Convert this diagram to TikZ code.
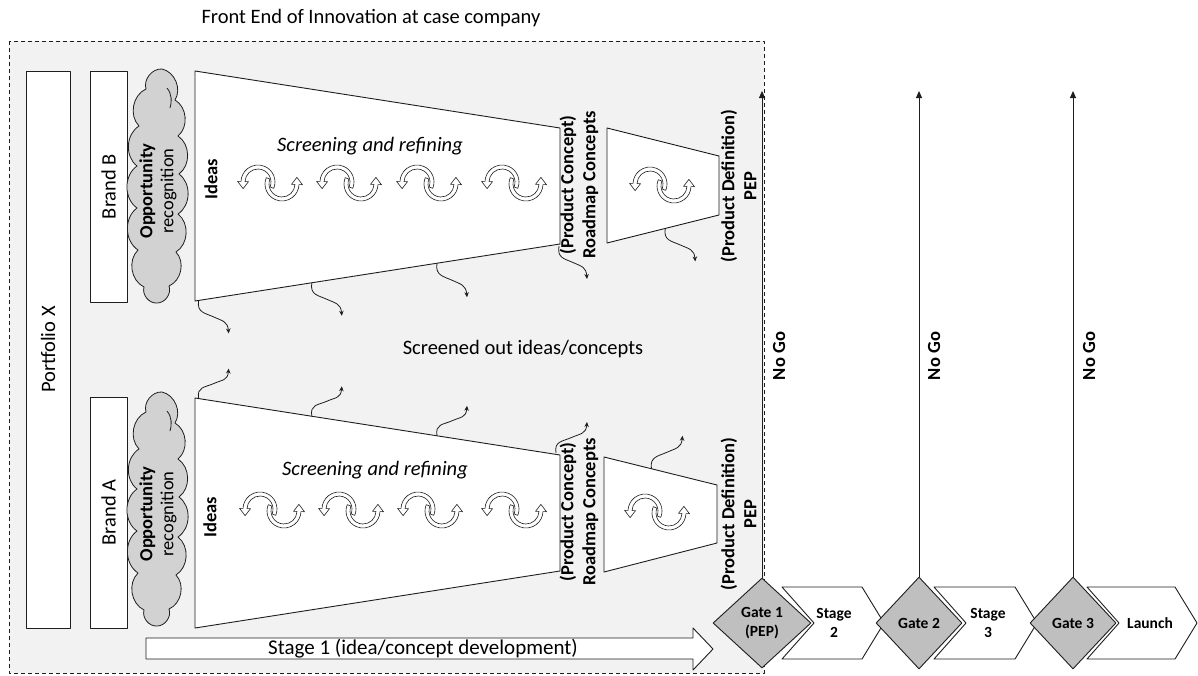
\documentclass[tikz,border=0pt]{standalone}
\usepackage{fontspec}
\setmainfont{Carlito}
\usetikzlibrary{shapes.geometric,arrows.meta,calc}

\definecolor{panelgray}{HTML}{F2F2F2}
\definecolor{cloudgray}{HTML}{D2D2D2}
\definecolor{gategray}{HTML}{BFBFBF}
\definecolor{ink}{HTML}{1E1E1E}

\tikzset{
  base/.style={font=\fontsize{20.5}{24}\selectfont, inner sep=0},
  vbold/.style={rotate=90, font=\fontsize{18.5}{22}\selectfont\bfseries, align=center, inner sep=0},
  outline/.style={draw=ink, line width=0.9pt},
  panel/.style={draw=ink, line width=0.9pt, dash pattern=on 4pt off 3pt, fill=panelgray},
  bar/.style={outline, fill=white, rotate=90, inner sep=0, font=\fontsize{20.5}{24}\selectfont},
  funnel/.style={outline, fill=white},
  cloudtext/.style={rotate=90, inner sep=0, align=center, font=\fontsize{18.5}{21}\selectfont},
  puff/.style={draw=ink, line width=0.8pt, fill=cloudgray},
  bump/.style={bend left=55},
  drop/.style={draw=ink, line width=0.8pt, -{Stealth[length=5pt,width=4.5pt]}},
  sqdown/.style={to path={.. controls +(-2,12) and +(-9,-4) .. ($(\tikztostart)!.5!(\tikztotarget)$)
      .. controls +(9,4) and +(-1,-12) .. (\tikztotarget)}},
  squp/.style={to path={.. controls +(-2,-12) and +(-9,4) .. ($(\tikztostart)!.5!(\tikztotarget)$)
      .. controls +(9,-4) and +(-1,12) .. (\tikztotarget)}},
  cycarrow/.style={draw=ink, line width=0.6pt, fill=white},
  % one curved hollow arrow of the refining cycle (y axis points down)
  halfturn/.style={insert path={
    (22:17) arc[start angle=22,end angle=-178,radius=17]
      -- (-178:20.5) -- (-204:16.3) -- (-178:9.5) -- (-178:13)
      arc[start angle=-178,end angle=22,radius=13] -- cycle}},
  refine/.pic={
    \path[cycarrow, shift={(-12,-1)}, halfturn];
    \path[cycarrow, rotate=180, shift={(-12,-1)}, halfturn];
  },
  % vertical opportunity cloud, 46 wide and 238 tall, centred on the pic position
  oppcloud/.pic={
    \path[puff] (4,-117) to[bump] (17,-86) to[bump] (20,-50) to[bump] (21,-12)
      to[bump] (20,28) to[bump] (18,66) to[bump] (11,100) to[bump] (-1,117)
      to[bump] (-14,101) to[bump] (-20,64) to[bump] (-21,22) to[bump] (-21,-20)
      to[bump] (-19,-60) to[bump] (-12,-97) to[bump] (4,-117) -- cycle;
    \draw[ink, line width=0.8pt] (9,-98) .. controls (14,-92) and (14,-84) .. (12,-78);
  },
  gate/.style={diamond, draw=ink, line width=0.9pt, fill=gategray, inner sep=0,
    font=\fontsize{15.5}{18.5}\selectfont\bfseries, align=center},
  chev/.style={outline, fill=white},
  chevtext/.style={font=\fontsize{15.5}{18.5}\selectfont\bfseries, align=center, inner sep=0},
  nogo/.style={draw=ink, line width=0.9pt, -{Triangle[length=7pt,width=6pt]}},
}

\begin{document}
\begin{tikzpicture}[x=1pt,y=-1pt, line join=round]
\useasboundingbox (0,0) rectangle (1198,675);

% front-end area
\draw[panel] (9,41) rectangle (764,673);
\node[base] (title) at (371,18) {Front End of Innovation at case company};

% portfolio and brand bars
\node[bar, minimum width=557, minimum height=44] (portfolio) at (48,349.5) {Portfolio X};
\node[bar, minimum width=231, minimum height=37] (brandB) at (108.5,186.5) {Brand B};
\node[bar, minimum width=231, minimum height=37] (brandA) at (108.5,512.5) {Brand A};

% opportunity clouds
\pic (cloudB) at (158,186) {oppcloud};
\pic (cloudA) at (158,509) {oppcloud};
\node[cloudtext] (oppB) at (158,191) {\textbf{Opportunity}\\recognition};
\node[cloudtext] (oppA) at (158,514) {\textbf{Opportunity}\\recognition};

% funnels, brand B
\coordinate (uTL) at (195,71);  \coordinate (uTR) at (560,128);
\coordinate (uBR) at (560,244); \coordinate (uBL) at (195,301);
\draw[funnel] (uTL) -- (uTR) -- (uBR) -- (uBL) -- cycle;
\coordinate (usTL) at (607,128); \coordinate (usTR) at (719,156);
\coordinate (usBR) at (719,215); \coordinate (usBL) at (607,243);
\draw[funnel] (usTL) -- (usTR) -- (usBR) -- (usBL) -- cycle;

% funnels, brand A
\coordinate (lTL) at (195,398);  \coordinate (lTR) at (560,455);
\coordinate (lBR) at (560,571);  \coordinate (lBL) at (195,628);
\draw[funnel] (lTL) -- (lTR) -- (lBR) -- (lBL) -- cycle;
\coordinate (lsTL) at (604,457); \coordinate (lsTR) at (717,485);
\coordinate (lsBR) at (717,543); \coordinate (lsBL) at (604,572);
\draw[funnel] (lsTL) -- (lsTR) -- (lsBR) -- (lsBL) -- cycle;

% funnel labels
\node[vbold] (ideasU) at (211,179) {Ideas};
\node[vbold] (ideasL) at (210,517) {Ideas};
\node[base, font=\fontsize{20.5}{24}\selectfont\itshape] (screenU) at (370,146) {Screening and refining};
\node[base, font=\fontsize{20.5}{24}\selectfont\itshape] (screenL) at (375,470) {Screening and refining};
\node[vbold] (conceptU) at (579,185) {(Product Concept)\\Roadmap Concepts};
\node[vbold] (conceptL) at (579,512) {(Product Concept)\\Roadmap Concepts};
\node[vbold] (defU) at (738.5,186) {(Product Definition)\\PEP};
\node[vbold] (defL) at (738.5,514) {(Product Definition)\\PEP};

% refining cycles
\pic (cu1) at (270,183) {refine};
\pic (cu2) at (349,183) {refine};
\pic (cu3) at (429,183) {refine};
\pic (cu4) at (514,183) {refine};
\pic (cu5) at (662,185) {refine};
\pic (cl1) at (272,510) {refine};
\pic (cl2) at (351,510) {refine};
\pic (cl3) at (430,510) {refine};
\pic (cl4) at (514,510) {refine};
\pic (cl5) at (657,512) {refine};

% screened-out drops, brand B (downwards)
\coordinate (du1) at ($(uBL)!0.01!(uBR)$);   \coordinate (eu1) at ($(du1)+(30,33)$);
\coordinate (du2) at ($(uBL)!0.32!(uBR)$);   \coordinate (eu2) at ($(du2)+(30,33)$);
\coordinate (du3) at ($(uBL)!0.663!(uBR)$);  \coordinate (eu3) at ($(du3)+(30,34)$);
\coordinate (du4) at ($(uBR)+(-1,2)$);       \coordinate (eu4) at ($(du4)+(28,33)$);
\coordinate (du5) at ($(usBL)!0.52!(usBR)$); \coordinate (eu5) at ($(du5)+(30,33)$);
\foreach \k in {1,...,5} \draw[drop] (du\k) to[sqdown] (eu\k);

% screened-out drops, brand A (upwards)
\coordinate (dl1) at ($(lTL)!0.01!(lTR)$);   \coordinate (el1) at ($(dl1)+(30,-30)$);
\coordinate (dl2) at ($(lTL)!0.32!(lTR)$);   \coordinate (el2) at ($(dl2)+(30,-30)$);
\coordinate (dl3) at ($(lTL)!0.663!(lTR)$);  \coordinate (el3) at ($(dl3)+(30,-30)$);
\coordinate (dl4) at ($(lTR)+(-4,-2)$);      \coordinate (el4) at ($(dl4)+(31,-31)$);
\coordinate (dl5) at ($(lsTL)!0.42!(lsTR)$); \coordinate (el5) at ($(dl5)+(31,-33)$);
\foreach \k in {1,...,5} \draw[drop] (dl\k) to[squp] (el\k);

\node[base] (screened) at (523,349) {Screened out ideas/concepts};

% stage 1 arrow
\draw[outline, fill=white] (146,638) -- (693,638) -- (693,628) -- (713,649)
  -- (693,670) -- (693,659) -- (146,659) -- cycle;
\node[base, font=\fontsize{21}{25}\selectfont] (stage1) at (423,648.5) {Stage 1 (idea/concept development)};

% stages after the front end
\draw[chev] (782,587) -- (862,587) -- (884,623) -- (862,659) -- (782,659) -- (814,623) -- cycle;
\node[chevtext] (s2) at (834,623) {Stage\\2};
\draw[chev] (934,587) -- (1015,587) -- (1037,623) -- (1015,659) -- (934,659) -- (966,623) -- cycle;
\node[chevtext] (s3) at (988,623) {Stage\\3};
\draw[chev] (1087,587) -- (1175,587) -- (1197,623) -- (1175,659) -- (1087,659) -- (1119,623) -- cycle;
\node[chevtext] (launch) at (1150,623) {Launch};

% gates
\node[gate, minimum width=98, minimum height=90] (g1) at (762,623) {Gate 1\\(PEP)};
\node[gate, minimum width=86, minimum height=92] (g2) at (919,623) {Gate 2};
\node[gate, minimum width=86, minimum height=92] (g3) at (1073,623) {Gate 3};

% no-go exits
\coordinate (t1) at (762,91);
\coordinate (t2) at (919,91);
\coordinate (t3) at (1073,91);
\draw[nogo] (g1.north) -- (t1);
\draw[nogo] (g2.north) -- (t2);
\draw[nogo] (g3.north) -- (t3);
\node[vbold] (ng1) at (779,356) {No Go};
\node[vbold] (ng2) at (934,356) {No Go};
\node[vbold] (ng3) at (1089,356) {No Go};
\end{tikzpicture}
\end{document}
